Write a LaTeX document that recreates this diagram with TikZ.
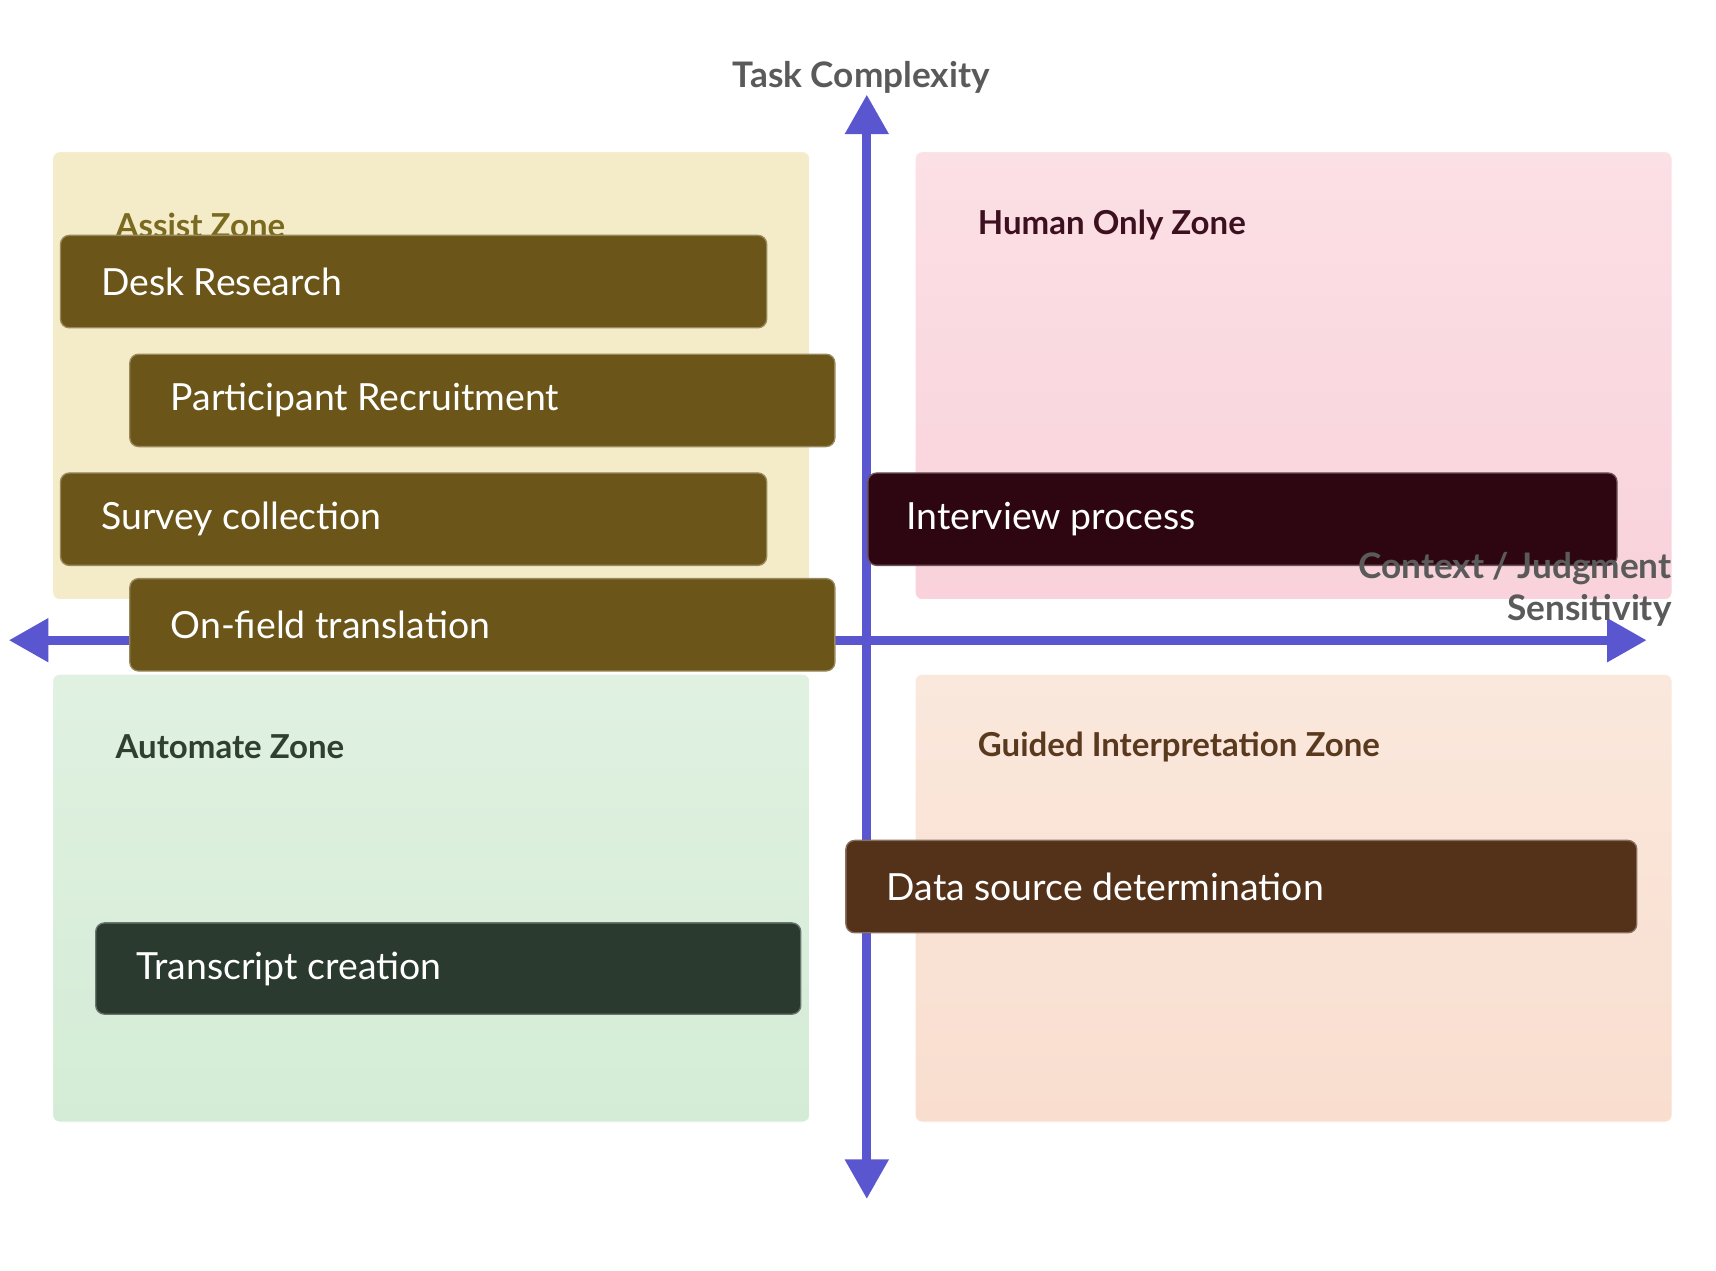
\documentclass[tikz,border=0pt]{standalone}
\usepackage{fontspec}
\setmainfont{Lato}
\usetikzlibrary{arrows.meta}
\definecolor{axis}{HTML}{5A56D0}
\definecolor{assistbg}{HTML}{F4EBC9}
\definecolor{humanbg}{HTML}{FBE0E5}
\definecolor{humanbg2}{HTML}{F9D2DB}
\definecolor{autobg}{HTML}{E0F1E1}
\definecolor{autobg2}{HTML}{D4ECD6}
\definecolor{guidebg}{HTML}{FAE8DC}
\definecolor{guidebg2}{HTML}{F9DECF}
\definecolor{assistbox}{HTML}{6B5518}
\definecolor{humanbox}{HTML}{2E0612}
\definecolor{autobox}{HTML}{2A3A2E}
\definecolor{guidebox}{HTML}{54321A}
\definecolor{assisttx}{HTML}{7A6A20}
\definecolor{humantx}{HTML}{3D1020}
\definecolor{autotx}{HTML}{2F3F30}
\definecolor{guidetx}{HTML}{5A3A1F}
\definecolor{titletx}{HTML}{5A5A5A}
\begin{document}
\begin{tikzpicture}[x=0.5pt,y=-0.5pt,
  zone/.style={rounded corners=3pt,draw=white},
  zlabel/.style={anchor=west,font=\fontsize{15}{18}\selectfont\bfseries},
  task/.style={rounded corners=4pt,line width=0.6pt},
  ttext/.style={anchor=west,text=white,font=\fontsize{17}{20}\selectfont},
  ax/.style={draw=axis,line width=4pt,-{Triangle[length=18pt,width=19pt]}}]
\useasboundingbox (0,0) rectangle (1560,1155);
% quadrants
\shade[zone,left color=assistbg,right color=assistbg] (48,138) rectangle (736,545);
\shade[zone,top color=humanbg,bottom color=humanbg2] (832,138) rectangle (1520,545);
\shade[zone,top color=autobg,bottom color=autobg2] (48,613) rectangle (736,1020);
\shade[zone,top color=guidebg,bottom color=guidebg2] (832,613) rectangle (1520,1020);
% axes
\coordinate (vc) at (788,582);
\coordinate (vt) at (788,86);
\coordinate (vb) at (788,1090);
\coordinate (hl) at (8,582);
\coordinate (hr) at (1497,582);
\draw[ax] (vc) -- (vt);
\draw[ax] (vc) -- (vb);
\draw[ax] (vc) -- (hl);
\draw[ax] (vc) -- (hr);
\node[text=titletx,font=\fontsize{16}{19}\selectfont\bfseries] (title) at (783,70) {Task Complexity};
% zone labels
\node[zlabel,text=assisttx] (lassist) at (98,205) {Assist Zone};
\node[zlabel,text=humantx] (lhuman) at (882,205) {Human Only Zone};
\node[zlabel,text=autotx] (lauto) at (98,679) {Automate Zone};
\node[zlabel,text=guidetx] (lguide) at (882,679) {Guided Interpretation Zone};
% tasks
\draw[task,fill=assistbox,draw=assistbox!70!white] (55,214) rectangle (697,298);
\node[ttext] (desk) at (85,256) {Desk Research};
\draw[task,fill=assistbox,draw=assistbox!70!white] (118,322) rectangle (759,406);
\node[ttext] (recr) at (148,364) {Participant Recruitment};
\draw[task,fill=assistbox,draw=assistbox!70!white] (55,430) rectangle (697,514);
\node[ttext] (surv) at (85,472) {Survey collection};
\draw[task,fill=assistbox,draw=assistbox!70!white] (118,526) rectangle (759,610);
\node[ttext] (onf) at (148,568) {On-field translation};
\draw[task,fill=humanbox,draw=humanbox!70!white] (789,430) rectangle (1470,514);
\node[ttext] (intv) at (817,472) {Interview process};
\draw[task,fill=guidebox,draw=guidebox!70!white] (769,764) rectangle (1488,848);
\node[ttext] (dsrc) at (799,806) {Data source determination};
\draw[task,fill=autobox,draw=autobox!70!white] (87,839) rectangle (728,922);
\node[ttext] (trans) at (117,881) {Transcript creation};
% x-axis label
\node[text=titletx,font=\fontsize{16}{19}\selectfont\bfseries,align=right,anchor=east,
  inner sep=1pt] (ctx) at (1522,536) {Context / Judgment\\Sensitivity};
\end{tikzpicture}
\end{document}
